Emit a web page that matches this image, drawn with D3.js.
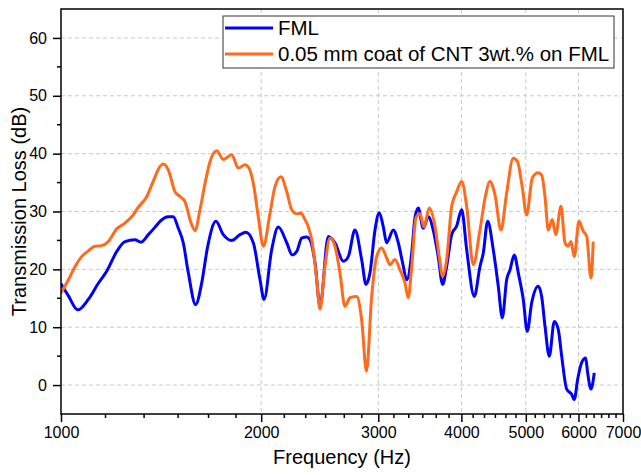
<!DOCTYPE html>
<html>
<head>
<meta charset="utf-8">
<script src="https://cdn.jsdelivr.net/npm/d3@7"></script>
<style>
  html, body { margin: 0; padding: 0; background: #fff; }
  svg { display: block; font-family: "Liberation Sans", Arial, sans-serif; }
</style>
</head>
<body>
<svg id="chart" width="641" height="475"></svg>
<script>
// ---- Data ----
const seriesNames = ["FML", "0.05 mm coat of CNT 3wt.% on FML"];
const fmlFreq = [1000,1025,1060,1099,1138,1172,1213,1248,1292,1319,1353,1385,1409,1450,1475,1501,1527,1554,1594,1628,1662,1710,1754,1806,1859,1896,1946,1992,2020,2074,2122,2185,2227,2262,2301,2341,2368,2410,2452,2523,2582,2658,2704,2767,2832,2875,2915,2966,3010,3052,3088,3160,3215,3264,3310,3368,3406,3445,3506,3567,3629,3692,3749,3801,3868,3935,4004,4074,4183,4266,4315,4381,4467,4545,4609,4679,4733,4804,4871,4956,5025,5102,5220,5282,5343,5423,5518,5595,5661,5760,5860,5913,5983,6067,6151,6194,6265,6337];
const fmlTL = [17.5,15.5,13.0,14.8,17.6,19.7,23.1,24.8,25.1,24.7,26.0,27.3,28.3,29.1,29.1,27.1,24.6,19.4,13.9,17.7,24.0,28.3,26.0,25.0,26.0,26.4,24.6,18.2,14.8,23.4,27.3,24.6,22.5,23.1,25.4,25.6,25.1,21.1,13.6,25.7,24.6,21.4,22.2,26.8,21.7,17.4,19.4,26.8,29.8,27.4,24.6,26.8,24.6,21.1,18.2,22.8,28.9,30.6,27.1,29.1,26.8,22.2,17.4,20.5,26.0,27.5,30.3,23.4,15.3,20.5,22.8,28.3,23.4,17.1,11.6,18.2,19.9,22.5,19.4,14.8,9.3,14.2,17.1,15.3,10.2,5.0,11.0,9.6,5.0,-0.7,-1.6,-2.5,1.0,3.9,4.7,2.1,-0.7,2.1];
const cntFreq = [1000,1026,1050,1074,1099,1125,1151,1178,1213,1248,1284,1304,1346,1376,1409,1425,1450,1484,1510,1536,1569,1591,1618,1647,1675,1715,1754,1806,1848,1891,1913,1946,1980,2015,2062,2098,2142,2185,2223,2262,2296,2327,2354,2387,2424,2452,2494,2538,2582,2627,2673,2720,2784,2832,2880,2932,2983,3035,3088,3124,3178,3234,3290,3328,3368,3418,3466,3514,3579,3651,3705,3749,3801,3868,3935,4004,4074,4168,4266,4341,4416,4493,4588,4679,4786,4859,4937,5015,5113,5220,5282,5343,5404,5480,5545,5647,5726,5792,5846,5913,6010,6100,6173,6265,6315];
const cntTL = [15.9,18.2,20.5,22.2,23.2,24.0,24.1,24.8,27.0,28.0,29.4,30.6,32.6,35.2,37.8,38.2,37.2,33.4,32.6,31.7,28.0,26.7,30.3,34.9,38.6,40.5,39.0,39.8,37.5,38.1,37.7,34.9,29.1,24.0,29.7,34.3,36.0,33.4,30.3,29.6,29.7,28.6,27.4,24.6,18.2,13.1,20.5,25.4,24.0,19.4,13.6,15.1,15.3,11.3,2.4,15.3,22.2,23.7,22.0,20.8,21.7,19.9,17.7,15.1,20.5,28.9,29.6,27.3,30.6,27.4,22.2,18.8,21.7,30.9,33.4,35.2,30.9,20.8,26.8,32.3,35.2,32.9,26.8,33.2,39.2,38.6,34.3,29.4,35.8,36.7,36.3,32.6,26.8,28.6,26.0,30.9,24.6,24.0,24.8,22.2,28.3,26.6,25.7,18.5,24.8];
const xTicks = [1000,2000,3000,4000,5000,6000,7000];
const yTicks = [0,10,20,30,40,50,60];
const xTitle = "Frequency (Hz)";
const yTitle = "Transmission Loss (dB)";
const colors = ["#0000ff", "#ff6a1c"];

// ---- Layout ----
const L = 61, R = 623, T = 9, B = 414;
const svg = d3.select("#chart");
const x = d3.scaleLog().domain([1000, 7000]).range([L, R]);
const y = d3.scaleLinear().domain([-5, 65]).range([B, T]);

// grid
const gridX = xTicks.filter(d => d > 1000 && d < 7000);
svg.append("g").selectAll("line").data(gridX).join("line")
  .attr("x1", d => x(d)).attr("x2", d => x(d)).attr("y1", T).attr("y2", B)
  .attr("stroke", "#c8c8c8").attr("stroke-width", 1).attr("stroke-dasharray", "4,3");
svg.append("g").selectAll("line").data(yTicks).join("line")
  .attr("x1", L).attr("x2", R).attr("y1", d => y(d)).attr("y2", d => y(d))
  .attr("stroke", "#c8c8c8").attr("stroke-width", 1).attr("stroke-dasharray", "4,3");

// minor ticks
const minorX = [];
for (let k = 0; k < xTicks.length - 1; k++) {
  for (let j = 1; j < 6; j++) minorX.push(xTicks[k] + j * (xTicks[k+1] - xTicks[k]) / 6);
}
const minorY = [5,15,25,35,45,55];

// x axis
const xAxis = d3.axisBottom(x).tickValues(xTicks).tickFormat(d3.format("d")).tickSize(8).tickPadding(5);
const gx = svg.append("g").attr("transform", `translate(0,${B})`).call(xAxis);
gx.select(".domain").remove();
gx.selectAll(".tick line").attr("stroke", "#000").attr("stroke-width", 1.5);
gx.selectAll("text").attr("font-size", 16).attr("fill", "#000").attr("font-family", "Liberation Sans, Arial, sans-serif");
svg.append("g").selectAll("line").data(minorX).join("line")
  .attr("x1", d => x(d)).attr("x2", d => x(d)).attr("y1", B).attr("y2", B + 4)
  .attr("stroke", "#000").attr("stroke-width", 1.5);

// y axis
const yAxis = d3.axisLeft(y).tickValues(yTicks).tickSize(8).tickPadding(6);
const gy = svg.append("g").attr("transform", `translate(${L},0)`).call(yAxis);
gy.select(".domain").remove();
gy.selectAll(".tick line").attr("stroke", "#000").attr("stroke-width", 1.5);
gy.selectAll("text").attr("font-size", 16).attr("fill", "#000").attr("font-family", "Liberation Sans, Arial, sans-serif");
svg.append("g").selectAll("line").data(minorY).join("line")
  .attr("x1", L - 4).attr("x2", L).attr("y1", d => y(d)).attr("y2", d => y(d))
  .attr("stroke", "#000").attr("stroke-width", 1.5);

// series
const line = d3.line().x(d => x(d[0])).y(d => y(d[1])).curve(d3.curveMonotoneX);
svg.append("clipPath").attr("id", "clip").append("rect")
  .attr("x", L).attr("y", T).attr("width", R - L).attr("height", B - T);
const fmlData = fmlFreq.map((f, i) => [f, fmlTL[i]]);
const cntData = cntFreq.map((f, i) => [f, cntTL[i]]);
const gLines = svg.append("g").attr("clip-path", "url(#clip)");
gLines.append("path").datum(fmlData).attr("d", line)
  .attr("fill", "none").attr("stroke", colors[0]).attr("stroke-width", 3).attr("stroke-linejoin", "round");
gLines.append("path").datum(cntData).attr("d", line)
  .attr("fill", "none").attr("stroke", colors[1]).attr("stroke-width", 3).attr("stroke-linejoin", "round");

// frame
svg.append("rect").attr("x", L).attr("y", T).attr("width", R - L).attr("height", B - T)
  .attr("fill", "none").attr("stroke", "#000").attr("stroke-width", 1.5);

// titles
svg.append("text").attr("x", (L + R) / 2).attr("y", 464).attr("text-anchor", "middle")
  .attr("font-size", 20).attr("fill", "#000").text(xTitle);
svg.append("text").attr("transform", `translate(26,${(T + B) / 2}) rotate(-90)`).attr("text-anchor", "middle")
  .attr("font-size", 20).attr("fill", "#000").text(yTitle);

// legend
const lg = svg.append("g");
lg.append("rect").attr("x", 223).attr("y", 16).attr("width", 391).attr("height", 52)
  .attr("fill", "#fff").attr("stroke", "#333").attr("stroke-width", 1);
seriesNames.forEach((name, i) => {
  const cy = 28 + i * 26;
  lg.append("line").attr("x1", 225).attr("x2", 273).attr("y1", cy).attr("y2", cy)
    .attr("stroke", colors[i]).attr("stroke-width", 3);
  lg.append("text").attr("x", 278).attr("y", cy + 7).attr("font-size", 20.5).attr("fill", "#000").text(name);
});
</script>
</body>
</html>
